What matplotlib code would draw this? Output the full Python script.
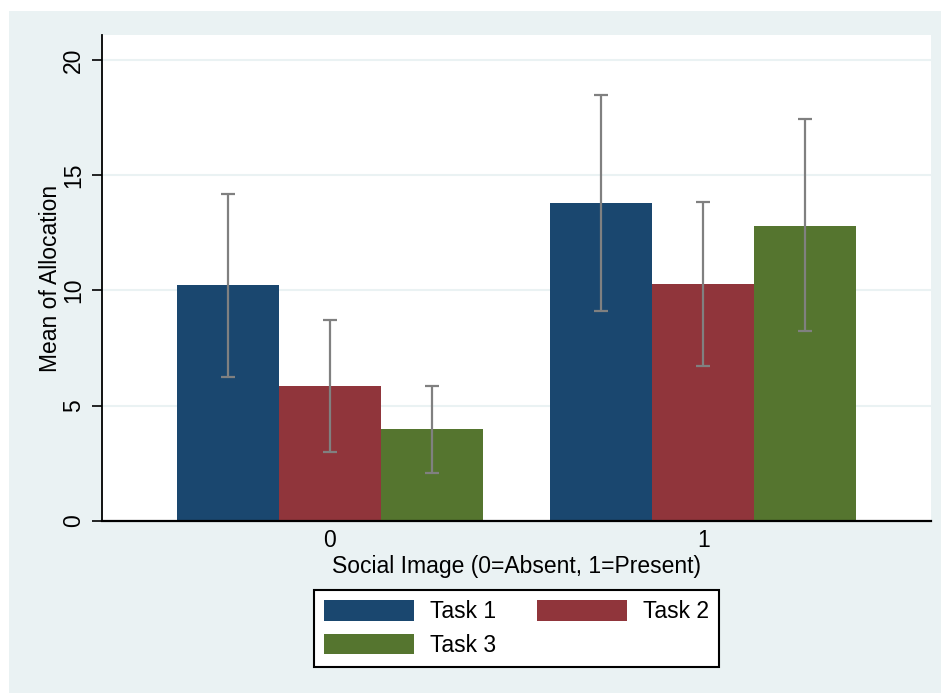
import matplotlib
matplotlib.use("Agg")
import matplotlib.pyplot as plt
from matplotlib.patches import Rectangle, Patch
import numpy as np

plt.rcParams['font.family'] = ['Liberation Sans', 'DejaVu Sans']

groups = ["0", "1"]
series = ["Task 1", "Task 2", "Task 3"]
means = {
    "Task 1": [10.24, 13.78],
    "Task 2": [5.86, 10.28],
    "Task 3": [4.01, 12.81],
}
ci_low = {
    "Task 1": [6.26, 9.10],
    "Task 2": [3.01, 6.71],
    "Task 3": [2.10, 8.26],
}
ci_high = {
    "Task 1": [14.19, 18.48],
    "Task 2": [8.73, 13.82],
    "Task 3": [5.86, 17.44],
}
colors = ["#1A476F", "#90353B", "#55752F"]
yticks = [0, 5, 10, 15, 20]

FS = 16.5
W, H = 941, 693
fig = plt.figure(figsize=(W / 100, H / 100), dpi=100)
fig.patch.set_facecolor("white")
fig.add_artist(Rectangle((9 / W, 0), 1 - 9 / W, (H - 11) / H,
                         transform=fig.transFigure, facecolor="#EAF2F3",
                         edgecolor="none", zorder=0))

ax = fig.add_axes([102 / W, (H - 521) / H, (931 - 102) / W, (521 - 35) / H])
ax.set_facecolor("white")

x = np.arange(len(groups))
bw = 0.273
for i, s in enumerate(series):
    xs = x + (i - 1) * bw
    m = np.array(means[s])
    lo = np.array(ci_low[s])
    hi = np.array(ci_high[s])
    ax.bar(xs, m, width=bw, color=colors[i], edgecolor="none", zorder=2, label=s)
    ax.errorbar(xs, m, yerr=[m - lo, hi - m], fmt="none", ecolor="#808080",
                elinewidth=1.6, capsize=5, capthick=1.6, zorder=3)

ax.set_xlim(-0.61, 1.61)
ax.set_ylim(0, 21.08)
ax.set_yticks(yticks)
ax.set_yticklabels([str(t) for t in yticks], rotation=90, va="center", fontsize=FS)
ax.set_xticks(x)
ax.set_xticklabels(groups, fontsize=FS)
ax.tick_params(axis="x", length=0, pad=6)
ax.tick_params(axis="y", length=7, width=1.2, pad=5)
ax.yaxis.grid(True, color="#EAF2F3", linewidth=1.5, zorder=0)
ax.set_axisbelow(True)
for sp in ["top", "right"]:
    ax.spines[sp].set_visible(False)
ax.spines["left"].set_linewidth(1.3)
ax.spines["bottom"].set_linewidth(1.6)
ax.set_ylabel("Mean of Allocation", fontsize=FS, labelpad=0)
ax.set_xlabel("Social Image (0=Absent, 1=Present)", fontsize=FS, labelpad=2)

handles = [Patch(facecolor=c, edgecolor="none") for c in colors]
order = [0, 2, 1]
leg = fig.legend([handles[k] for k in order], [series[k] for k in order],
                 loc="center", ncol=2,
                 bbox_to_anchor=(516.5 / W, 1 - 628.5 / H),
                 fontsize=FS, handlelength=3.9, handleheight=1.0,
                 handletextpad=0.7, columnspacing=1.8, labelspacing=0.45,
                 frameon=True, fancybox=False, borderpad=0.45)
leg.get_frame().set_edgecolor("black")
leg.get_frame().set_linewidth(1.5)
leg.get_frame().set_facecolor("white")
leg.get_frame().set_alpha(1)

fig.savefig("out.png", dpi=100)
